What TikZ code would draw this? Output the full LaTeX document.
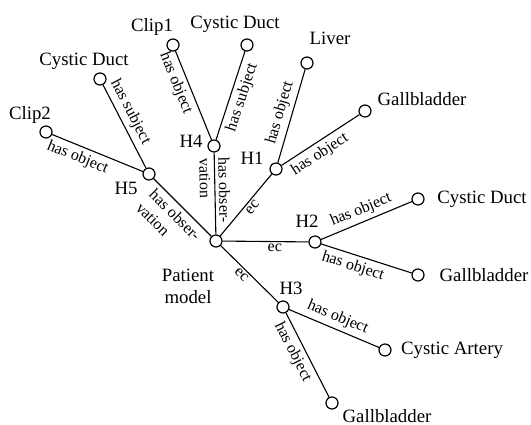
\documentclass[tikz,border=0pt]{standalone}
\usepackage{fontspec}
\setmainfont{Liberation Serif}
\newcommand{\NameF}{\fontsize{18.8}{22}\selectfont}
\newcommand{\EdgeF}{\fontsize{16}{19}\selectfont}
\tikzset{
  dot/.style={circle, draw, line width=1.2pt, minimum size=12pt, inner sep=0pt, fill=white},
  term/.style={font=\NameF, inner sep=0pt, align=center},
  rel/.style={font=\EdgeF, sloped, inner sep=4pt},
  link/.style={line width=1.1pt},
}

\begin{document}
\begin{tikzpicture}[x=1pt, y=-1pt]
  \useasboundingbox (0,0) rectangle (531,425);

  \node[dot] (pm)    at (216,241) {};
  \node[dot] (h1)    at (276,169) {};
  \node[dot] (h2)    at (315,242) {};
  \node[dot] (h3)    at (283,307) {};
  \node[dot] (h4)    at (214,146) {};
  \node[dot] (h5)    at (149,174) {};
  \node[dot] (clipa) at (173,45) {};
  \node[dot] (cdh4)  at (247,45) {};
  \node[dot] (liver) at (307,63) {};
  \node[dot] (gbh1)  at (365,111) {};
  \node[dot] (cdh5)  at (100,79) {};
  \node[dot] (clipb) at (46,132) {};
  \node[dot] (cdh2)  at (418,199) {};
  \node[dot] (gbh2)  at (418,275) {};
  \node[dot] (ca)    at (385,350) {};
  \node[dot] (gbh3)  at (332,403) {};

  \node[term] (pm-t)    at (188,286) {Patient\\model};
  \node[term] (h1-t)    at (252,158) {H1};
  \node[term] (h2-t)    at (307,221) {H2};
  \node[term] (h3-t)    at (291,288) {H3};
  \node[term] (h4-t)    at (191,141) {H4};
  \node[term] (h5-t)    at (126,188) {H5};
  \node[term] (clipa-t) at (152,27) {Clip1};
  \node[term] (cdh4-t)  at (235,24) {Cystic Duct};
  \node[term] (liver-t) at (330,38) {Liver};
  \node[term] (gbh1-t)  at (422,99) {Gallbladder};
  \node[term] (cdh5-t)  at (84,61) {Cystic Duct};
  \node[term] (clipb-t) at (30,115) {Clip2};
  \node[term] (cdh2-t)  at (482,199) {Cystic Duct};
  \node[term] (gbh2-t)  at (484,275) {Gallbladder};
  \node[term] (ca-t)    at (452,350) {Cystic Artery};
  \node[term] (gbh3-t)  at (387,416) {Gallbladder};

  \draw[link] (clipa) -- node[rel, below, pos=.31] {has object} (h4);
  \draw[link] (h4) -- node[rel, below, pos=.52] {has subject} (cdh4);
  \draw[link] (cdh5) -- node[rel, above, pos=.39] {has subject} (h5);
  \draw[link] (clipb) -- node[rel, below, pos=.33] {has object} (h5);
  \draw[link] (h5) -- node[rel, below, pos=.5, align=left] {has obser-\\vation} (pm);
  \draw[link] (pm) -- node[rel, pos=.54, inner sep=0pt, align=left] {has obser-\\vation} (h4);
  \draw[link] (pm) -- node[rel, below, pos=.53, inner sep=2pt] {ec} (h1);
  \draw[link] (pm) -- node[rel, below, pos=.61, inner sep=2pt] {ec} (h2);
  \draw[link] (pm) -- node[rel, below, pos=.44, inner sep=2pt] {ec} (h3);
  \draw[link] (h1) -- node[rel, above, pos=.5] {has object} (liver);
  \draw[link] (h1) -- node[rel, below, pos=.41] {has object} (gbh1);
  \draw[link] (h2) -- node[rel, above, pos=.49] {has object} (cdh2);
  \draw[link] (h2) -- node[rel, below, pos=.39] {has object} (gbh2);
  \draw[link] (h3) -- node[rel, above, pos=.49] {has object} (ca);
  \draw[link] (h3) -- node[rel, below, pos=.4] {has object} (gbh3);
\end{tikzpicture}
\end{document}
